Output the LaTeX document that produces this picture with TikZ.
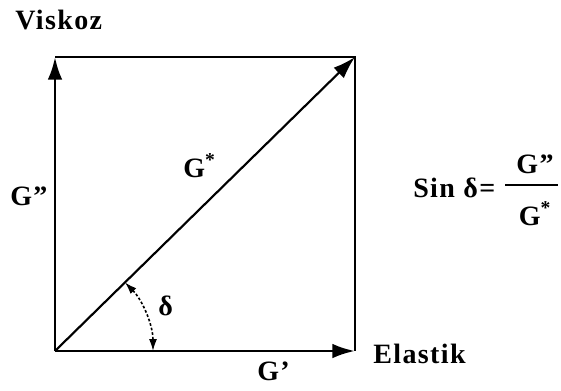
\documentclass[tikz,border=0pt]{standalone}
\usepackage{fontspec}
\setmainfont{Liberation Serif}[LetterSpace=5]
\usetikzlibrary{arrows.meta}

\begin{document}
\begin{tikzpicture}[x=0.75pt,y=-0.75pt,>={Latex[length=17pt,width=11pt]},
    lbl/.style={inner sep=0pt,anchor=base west,font=\fontsize{21}{25}\bfseries\selectfont},
    vec/.style={->,line width=2.2pt},
    edge/.style={line width=1.1pt}]
  \useasboundingbox (0,0) rectangle (561,390);

  % Ecken des Diagramms
  \coordinate (O) at (55,351);
  \coordinate (X) at (355,351);
  \coordinate (Y) at (55,57);
  \coordinate (C) at (355,57);

  % Rahmen
  \draw[edge] (Y) -- (C) -- (X);

  % Vektoren
  \draw[vec] (O) -- (Y);
  \draw[vec] (O) -- (X);
  \draw[vec,line width=1.6pt] (O) -- (C);

  % Winkel delta
  \draw[{Latex[length=9pt,width=6pt]}-{Latex[length=9pt,width=6pt]},line width=1.2pt,
    dash pattern=on 2pt off 1.5pt]
    ([shift={(-44.4:98)}]O) arc[start angle=-44.4,end angle=0,radius=98];

  % Beschriftungen
  \node[lbl] (visk) at (15,29) {Viskoz};
  \node[lbl] (elast) at (373,363) {Elastik};
  \node[lbl] (g2) at (10,205) {G”};
  \node[lbl] (g1) at (257,380) {G’};
  \node[lbl] (gs) at (183,177) {G\textsuperscript{*}};
  \node[lbl] (del) at (158,315) {δ};

  % Formel
  \node[lbl] (sin) at (413,197) {Sin δ=};
  \node[lbl,anchor=base] (num) at (535,173) {G”};
  \node[lbl,anchor=base] (den) at (535,225) {G\textsuperscript{*}};
  \coordinate (barl) at (505,185);
  \coordinate (barr) at (558,185);
  \draw[line width=1.4pt] (barl) -- (barr);
\end{tikzpicture}
\end{document}
